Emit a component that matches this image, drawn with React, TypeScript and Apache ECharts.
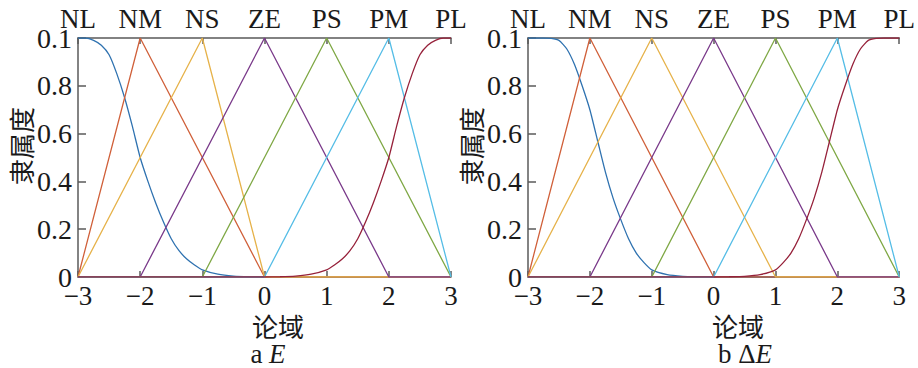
import React, { useEffect, useRef } from "react";
import * as echarts from "echarts";

// Tick labels
const xTickValues = [-3, -2, -1, 0, 1, 2, 3];
const topLabels = ["NL", "NM", "NS", "ZE", "PS", "PM", "PL"];
const yTickLabels = ["0", "0.2", "0.4", "0.6", "0.8", "0.1"];
const seriesNames = ["NL", "NM", "NS", "ZE", "PS", "PM", "PL"];

// Panel a (E)
const aNL: number[][] = [
  [-3, 1], [-2.875, 1], [-2.75, 0.99], [-2.625, 0.97], [-2.5, 0.93], [-2.375, 0.85],
  [-2.25, 0.75], [-2.125, 0.63], [-2, 0.5], [-1.875, 0.4], [-1.75, 0.31], [-1.625, 0.23],
  [-1.5, 0.16], [-1.375, 0.11], [-1.25, 0.075], [-1.125, 0.05], [-1, 0.03],
  [-0.75, 0.012], [-0.5, 0.004], [-0.25, 0.001], [0, 0], [1, 0], [2, 0], [3, 0],
];
const aNM: number[][] = [[-3, 0], [-2, 1], [0, 0], [3, 0]];
const aNS: number[][] = [[-3, 0], [-1, 1], [0, 0], [3, 0]];
const aZE: number[][] = [[-3, 0], [-2, 0], [0, 1], [2, 0], [3, 0]];
const aPS: number[][] = [[-3, 0], [-1, 0], [1, 1], [3, 0]];
const aPM: number[][] = [[-3, 0], [0, 0], [2, 1], [3, 0]];
const aPL: number[][] = [
  [-3, 0], [-2, 0], [-1, 0], [0, 0], [0.25, 0.001], [0.5, 0.004], [0.75, 0.012],
  [1, 0.03], [1.125, 0.05], [1.25, 0.075], [1.375, 0.11], [1.5, 0.16], [1.625, 0.23],
  [1.75, 0.31], [1.875, 0.4], [2, 0.5], [2.125, 0.63], [2.25, 0.75], [2.375, 0.85],
  [2.5, 0.93], [2.625, 0.97], [2.75, 0.99], [2.875, 1], [3, 1],
];

// Panel b (ΔE)
const bNL: number[][] = [
  [-3, 1], [-2.75, 1], [-2.625, 0.998], [-2.5, 0.99], [-2.375, 0.955], [-2.25, 0.89],
  [-2.125, 0.8], [-2, 0.7], [-1.875, 0.57], [-1.75, 0.44], [-1.625, 0.33], [-1.5, 0.24],
  [-1.375, 0.16], [-1.25, 0.1], [-1.125, 0.06], [-1, 0.03], [-0.75, 0.01],
  [-0.5, 0.003], [-0.25, 0.001], [0, 0], [1, 0], [2, 0], [3, 0],
];
const bNM: number[][] = [[-3, 0], [-2, 1], [0, 0], [3, 0]];
const bNS: number[][] = [[-3, 0], [-1, 1], [1, 0], [3, 0]];
const bZE: number[][] = [[-3, 0], [-2, 0], [0, 1], [2, 0], [3, 0]];
const bPS: number[][] = [[-3, 0], [-1, 0], [1, 1], [3, 0]];
const bPM: number[][] = [[-3, 0], [0, 0], [2, 1], [3, 0]];
const bPL: number[][] = [
  [-3, 0], [-2, 0], [-1, 0], [0, 0], [0.25, 0.001], [0.5, 0.003], [0.75, 0.01],
  [1, 0.03], [1.125, 0.06], [1.25, 0.1], [1.375, 0.16], [1.5, 0.24], [1.625, 0.33],
  [1.75, 0.44], [1.875, 0.57], [2, 0.7], [2.125, 0.8], [2.25, 0.89], [2.375, 0.955],
  [2.5, 0.99], [2.625, 0.998], [2.75, 1], [3, 1],
];

const panelA = [aNL, aNM, aNS, aZE, aPS, aPM, aPL];
const panelB = [bNL, bNM, bNS, bZE, bPS, bPM, bPL];

const colors = ["#2f72b0", "#d0603a", "#e6b24a", "#7a3a8a", "#7fa845", "#55bde6", "#96213a"];

const SERIF = "'Liberation Serif', 'DejaVu Serif', serif";
const CJK = "'Noto Sans CJK SC', sans-serif";
const AXIS_COLOR = "#5a5a5a";
const TEXT_COLOR = "#1a1a1a";

function fmtX(v: number) {
  return v < 0 ? "\u2212" + Math.abs(v) : String(v);
}

export default function App() {
  const ref = useRef<HTMLDivElement>(null);
  useEffect(() => {
    if (!ref.current) return;
    const chart = echarts.init(ref.current, null, { renderer: "svg" });

    const grids = [
      { left: 78, right: 467, top: 38, bottom: 91 },
      { left: 528, right: 17, top: 38, bottom: 91 },
    ];

    const xAxes: any[] = [];
    const yAxes: any[] = [];
    [0, 1].forEach((g) => {
      xAxes.push({
        type: "value",
        gridIndex: g,
        position: "bottom",
        min: -3,
        max: 3,
        interval: 1,
        axisLine: { show: true, onZero: false, lineStyle: { color: AXIS_COLOR, width: 1.5 } },
        axisTick: { show: true, inside: true, length: 6, lineStyle: { color: AXIS_COLOR, width: 1.5 } },
        splitLine: { show: false },
        axisLabel: {
          margin: 5,
          fontFamily: SERIF,
          fontSize: 27,
          color: TEXT_COLOR,
          formatter: (v: number) => (xTickValues.indexOf(v) >= 0 ? fmtX(v) : ""),
        },
      });
      xAxes.push({
        type: "value",
        gridIndex: g,
        position: "top",
        min: -3,
        max: 3,
        interval: 1,
        axisLine: { show: true, onZero: false, lineStyle: { color: AXIS_COLOR, width: 1.5 } },
        axisTick: { show: true, inside: true, length: 6, lineStyle: { color: AXIS_COLOR, width: 1.5 } },
        splitLine: { show: false },
        axisLabel: {
          margin: 6,
          fontFamily: SERIF,
          fontSize: 27,
          color: TEXT_COLOR,
          formatter: (v: number) => topLabels[Math.round(v) + 3] ?? "",
        },
      });
      yAxes.push({
        type: "value",
        gridIndex: g,
        min: 0,
        max: 1,
        interval: 0.2,
        axisLine: { show: true, onZero: false, lineStyle: { color: AXIS_COLOR, width: 1.5 } },
        axisTick: { show: true, inside: true, length: 8, lineStyle: { color: AXIS_COLOR, width: 1.5 } },
        splitLine: { show: false },
        axisLabel: {
          margin: 6,
          fontFamily: SERIF,
          fontSize: 28,
          color: TEXT_COLOR,
          formatter: (v: number) => yTickLabels[Math.round(v * 5)] ?? "",
        },
      });
    });

    const series: any[] = [];
    [panelA, panelB].forEach((panel, p) => {
      panel.forEach((data, i) => {
        const curved = i === 0 || i === 6;
        series.push({
          type: "line",
          name: seriesNames[i],
          xAxisIndex: p * 2,
          yAxisIndex: p,
          data,
          showSymbol: false,
          symbol: "none",
          smooth: curved ? 0.2 : false,
          lineStyle: { color: colors[i], width: 1.3 },
          silent: true,
          z: 2 + i,
        });
      });
    });

    const textStyleCJK = { fontFamily: CJK, fontSize: 26, lineHeight: 26, fill: TEXT_COLOR };
    const captionRich = { i: { fontFamily: SERIF, fontSize: 27, lineHeight: 26, fontStyle: "italic", fill: TEXT_COLOR } };
    const graphic: any[] = [
      { type: "text", x: 278, y: 325, style: { ...textStyleCJK, text: "论域", align: "center", verticalAlign: "middle" } },
      { type: "text", x: 738, y: 325, style: { ...textStyleCJK, text: "论域", align: "center", verticalAlign: "middle" } },
      {
        type: "text", x: 20, y: 146, rotation: Math.PI / 2,
        style: { ...textStyleCJK, text: "隶属度", align: "center", verticalAlign: "middle" },
      },
      {
        type: "text", x: 470, y: 146, rotation: Math.PI / 2,
        style: { ...textStyleCJK, text: "隶属度", align: "center", verticalAlign: "middle" },
      },
      {
        type: "text", x: 268, y: 354,
        style: {
          text: "a {i|E}", align: "center", verticalAlign: "middle",
          fontFamily: SERIF, fontSize: 27, lineHeight: 26, fill: TEXT_COLOR,
          rich: captionRich,
        },
      },
      {
        type: "text", x: 745, y: 354,
        style: {
          text: "b \u0394{i|E}", align: "center", verticalAlign: "middle",
          fontFamily: SERIF, fontSize: 27, lineHeight: 26, fill: TEXT_COLOR,
          rich: captionRich,
        },
      },
    ];

    chart.setOption({
      animation: false,
      backgroundColor: "#ffffff",
      grid: grids,
      xAxis: xAxes,
      yAxis: yAxes,
      series,
      graphic,
    });
    return () => chart.dispose();
  }, []);

  return (
    <div
      ref={ref}
      style={{ position: "fixed", left: 0, top: 0, width: 918, height: 368, background: "#fff" }}
    />
  );
}
